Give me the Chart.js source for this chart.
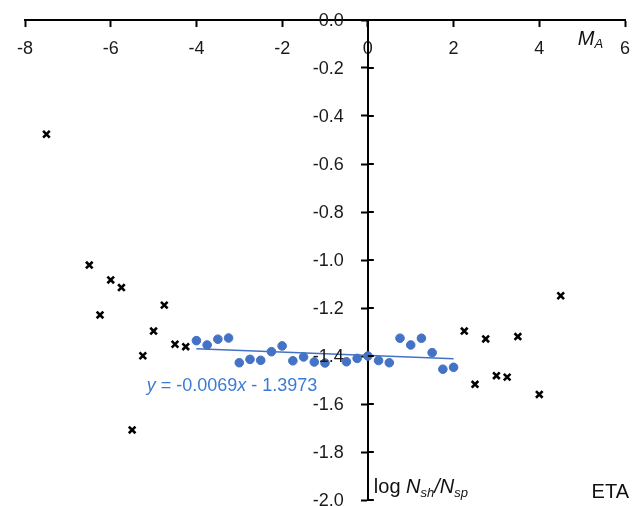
<!DOCTYPE html>
<html><head><meta charset="utf-8">
<script src="https://cdn.jsdelivr.net/npm/chart.js@4.4.1/dist/chart.umd.min.js"></script>
<style>html,body{margin:0;padding:0;overflow:hidden;background:#fff}#wrap{width:643px;height:516px}</style>
</head><body><div id="wrap"><canvas id="c" width="643" height="516"></canvas></div>
<script>
// ---- data ----
const crossX = [-7.5, -6.5, -6.25, -6.0, -5.75, -5.5, -5.25, -5.0, -4.75, -4.5, -4.25, 2.25, 2.5, 2.75, 3.0, 3.25, 3.5, 4.0, 4.5];
const crossY = [-0.476, -1.021, -1.229, -1.083, -1.115, -1.708, -1.399, -1.296, -1.188, -1.351, -1.361, -1.296, -1.518, -1.329, -1.482, -1.488, -1.319, -1.560, -1.149];
const blueX = [-4, -3.75, -3.5, -3.25, -3, -2.75, -2.5, -2.25, -2, -1.75, -1.5, -1.25, -1, -0.5, -0.25, 0, 0.25, 0.5, 0.75, 1, 1.25, 1.5, 1.75, 2];
const blueY = [-1.336, -1.354, -1.330, -1.325, -1.428, -1.414, -1.418, -1.382, -1.358, -1.420, -1.404, -1.425, -1.429, -1.424, -1.410, -1.400, -1.419, -1.428, -1.326, -1.354, -1.326, -1.386, -1.455, -1.447];
const trendSlope = -0.0069;
const trendIntercept = -1.3973;
const trendFrom = -4;
const trendTo = 2;
const equationText = 'y = -0.0069x - 1.3973';
const xTickMin = -8, xTickMax = 6, xTickStep = 2;
const yTickMin = -2, yTickMax = 0, yTickStep = 0.2;
const cornerLabel = 'ETA';

const FONT = "'Liberation Sans', Arial, sans-serif";
const crossPts = crossX.map((x, i) => ({x, y: crossY[i]}));
const bluePts = blueX.map((x, i) => ({x, y: blueY[i]}));
const trendPts = [trendFrom, trendTo].map(x => ({x, y: trendSlope * x + trendIntercept}));

function drawRuns(ctx, x, y, runs, color) {
  ctx.save();
  ctx.fillStyle = color;
  ctx.textBaseline = 'alphabetic';
  ctx.textAlign = 'left';
  for (const r of runs) {
    ctx.font = (r.italic ? 'italic ' : '') + r.size + 'px ' + FONT;
    ctx.fillText(r.t, x, y + (r.dy || 0));
    x += ctx.measureText(r.t).width;
  }
  ctx.restore();
}

const extras = {
  id: 'extras',
  afterDraw(chart) {
    const ctx = chart.ctx, xs = chart.scales.x, ys = chart.scales.y;
    const x0 = xs.getPixelForValue(0);
    // y tick labels (left of the crossing axis) and right halves of tick marks
    ctx.save();
    ctx.strokeStyle = '#000';
    ctx.lineWidth = 2;
    ctx.fillStyle = '#1a1a1a';
    ctx.font = '18px ' + FONT;
    ctx.textAlign = 'right';
    ctx.textBaseline = 'middle';
    ys.ticks.forEach(t => {
      const py = Math.round(ys.getPixelForValue(t.value));
      ctx.beginPath(); ctx.moveTo(x0, py); ctx.lineTo(x0 + 6, py); ctx.stroke();
      ctx.fillText(Number(t.value).toFixed(1), x0 - 24, py + 1);
    });
    ctx.restore();
    // axis titles
    drawRuns(ctx, xs.getPixelForValue(4.9), ys.getPixelForValue(-0.104), [
      {t: 'M', italic: true, size: 20},
      {t: 'A', italic: true, size: 13, dy: 3}
    ], '#111');
    drawRuns(ctx, x0 + 6, ys.getPixelForValue(-1.972), [
      {t: 'log ', size: 20},
      {t: 'N', italic: true, size: 20},
      {t: 'sh', italic: true, size: 13, dy: 4},
      {t: '/', italic: true, size: 20},
      {t: 'N', italic: true, size: 20},
      {t: 'sp', italic: true, size: 13, dy: 4}
    ], '#111');
    drawRuns(ctx, xs.getPixelForValue(5.22), ys.getPixelForValue(-1.99), [{t: cornerLabel, size: 20}], '#111');
    // trendline equation
    drawRuns(ctx, xs.getPixelForValue(-5.16), ys.getPixelForValue(-1.547), [
      {t: 'y', italic: true, size: 18},
      {t: ' = -0.0069', size: 18},
      {t: 'x', italic: true, size: 18},
      {t: ' - 1.3973', size: 18}
    ], '#3A7BD5');
  }
};

new Chart(document.getElementById('c'), {
  type: 'scatter',
  data: {
    datasets: [
      {label: 'trend', type: 'line', data: trendPts, borderColor: '#4472C4', borderWidth: 1.5, pointRadius: 0, fill: false, order: 3},
      {label: 'fit', data: bluePts, backgroundColor: '#4472C4', borderColor: '#4472C4', pointRadius: 4.3, pointStyle: 'circle', order: 2},
      {label: 'other', data: crossPts, pointStyle: 'crossRot', pointRadius: 4.7, borderColor: '#000', backgroundColor: '#000', borderWidth: 2.6, order: 1}
    ]
  },
  options: {
    responsive: false,
    animation: false,
    devicePixelRatio: 1,
    layout: {padding: {left: 25, right: 18, top: 20, bottom: 16}},
    plugins: {legend: {display: false}, tooltip: {enabled: false}},
    scales: {
      x: {
        type: 'linear', min: xTickMin, max: xTickMax, position: {y: 0},
        ticks: {stepSize: xTickStep, color: '#1a1a1a', font: {family: FONT, size: 18}, padding: 12, callback: v => String(v)},
        grid: {drawOnChartArea: false, drawTicks: true, tickLength: 6, tickWidth: 2, tickColor: '#000'},
        border: {color: '#000', width: 2}
      },
      y: {
        type: 'linear', min: yTickMin, max: yTickMax, position: {x: 0},
        ticks: {stepSize: yTickStep, display: false},
        grid: {drawOnChartArea: false, drawTicks: true, tickLength: 6, tickWidth: 2, tickColor: '#000'},
        border: {color: '#000', width: 2}
      }
    }
  },
  plugins: [extras]
});
</script>
</body></html>
